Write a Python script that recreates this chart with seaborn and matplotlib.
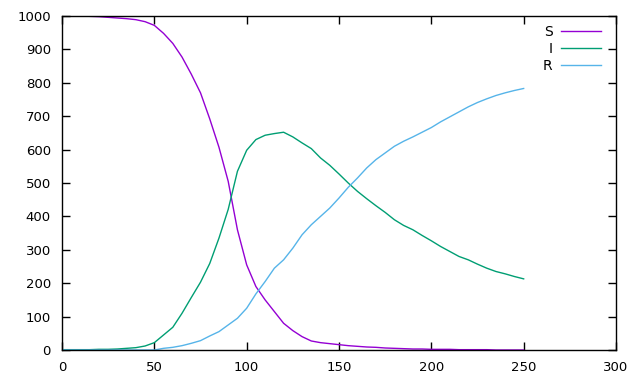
import matplotlib
matplotlib.use("Agg")
import matplotlib.pyplot as plt
import seaborn as sns
import pandas as pd
from matplotlib.lines import Line2D

# time points (days)
t = list(range(0, 251, 5))

S = [1000, 1000, 1000, 999, 998, 996, 994, 992, 989, 983, 972, 948, 918, 877, 826, 770,
     692, 607, 505, 360, 255, 190, 150, 115, 80, 58, 40, 27, 22, 19, 16, 13, 11, 9, 8, 6,
     5, 4, 3, 3, 2, 2, 2, 1, 1, 1, 1, 0, 0, 0, 0]
I = [1, 1, 1, 1, 2, 2, 3, 5, 7, 12, 22, 45, 68, 110, 157, 203, 259, 335, 421, 535, 598,
     630, 643, 648, 652, 638, 620, 603, 575, 553, 527, 500, 475, 453, 432, 412, 390, 373,
     360, 343, 327, 310, 295, 280, 270, 257, 245, 235, 228, 220, 213]
R = [0, 0, 0, 0, 0, 0, 0, 0, 0, 0, 0, 5, 8, 13, 20, 28, 42, 55, 75, 95, 125, 168, 205,
     245, 270, 305, 345, 375, 400, 425, 455, 487, 515, 545, 570, 590, 610, 625, 638, 652,
     666, 683, 698, 713, 728, 741, 752, 762, 770, 777, 783]

series_names = ["S", "I", "R"]
colors = {"S": "#9400D3", "I": "#009E73", "R": "#56B4E9"}

df = pd.concat([
    pd.DataFrame({"t": t, "value": S, "series": "S"}),
    pd.DataFrame({"t": t, "value": I, "series": "I"}),
    pd.DataFrame({"t": t, "value": R, "series": "R"}),
])

plt.rcParams["font.family"] = ["DejaVu Sans"]
fig = plt.figure(figsize=(6.4, 3.84), dpi=100)
ax = fig.add_axes([62 / 640, 34 / 384, 554 / 640, 334 / 384])

sns.lineplot(data=df, x="t", y="value", hue="series", hue_order=series_names,
             palette=colors, linewidth=1.0, ax=ax, legend=False)

ax.set_xlim(0, 300)
ax.set_ylim(0, 1000)
ax.set_xticks(range(0, 301, 50))
ax.set_yticks(range(0, 1001, 100))
ax.set_xlabel("")
ax.set_ylabel("")
ax.tick_params(direction="in", length=6, width=1, top=True, right=True,
               labelsize=9.5, colors="black")
ax.tick_params(axis="x", pad=8)
ax.tick_params(axis="y", pad=8)
for sp in ax.spines.values():
    sp.set_linewidth(1)
    sp.set_color("black")

handles = [Line2D([], [], color=colors[n], lw=1) for n in series_names]
ax.legend(handles, series_names, loc="upper right", frameon=False, markerfirst=False,
          handlelength=2.9, handletextpad=0.6, labelspacing=0.22, fontsize=10,
          borderaxespad=0.0, bbox_to_anchor=(0.983, 0.99))

fig.savefig("out.png", dpi=100)
